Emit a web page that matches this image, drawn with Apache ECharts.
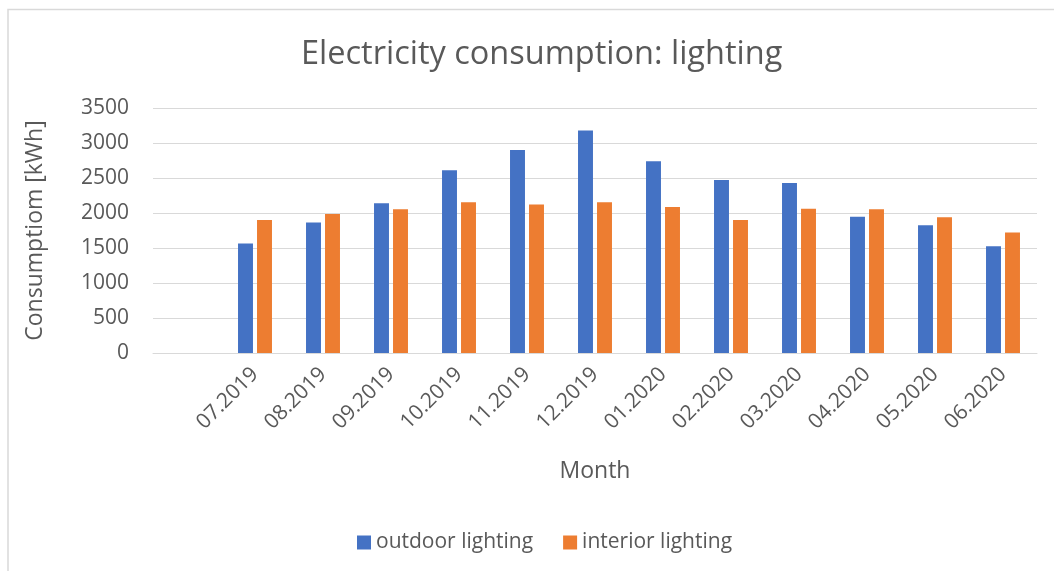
<!DOCTYPE html>
<html>
<head>
<meta charset="utf-8">
<script src="https://cdn.jsdelivr.net/npm/echarts@6/dist/echarts.min.js"></script>
<style>
  html, body { margin: 0; padding: 0; background: #fff; }
  #main { width: 1054px; height: 571px; }
</style>
</head>
<body>
<div id="main"></div>
<script>
// 数据 (first slot is an empty category, as in the original)
var months = ['', '07.2019', '08.2019', '09.2019', '10.2019', '11.2019', '12.2019',
  '01.2020', '02.2020', '03.2020', '04.2020', '05.2020', '06.2020'];
var outdoorLighting = ['-', 1565, 1865, 2140, 2610, 2900, 3180, 2740, 2470, 2430, 1945, 1825, 1525];
var interiorLighting = ['-', 1900, 1985, 2055, 2155, 2120, 2155, 2085, 1900, 2060, 2055, 1940, 1720];
var yTicks = { min: 0, max: 3500, interval: 500 };

var textColor = '#595959';
var lineColor = '#d9d9d9';
var fontName = 'Open Sans';

var myChart = echarts.init(document.getElementById('main'));
myChart.setOption({
  animation: false,
  color: ['#4472C4', '#ED7D31'],
  textStyle: { fontFamily: fontName, color: textColor },
  title: {
    text: 'Electricity consumption: lighting',
    left: 296,
    top: 33,
    textStyle: { fontFamily: fontName, fontSize: 32.5, fontWeight: 'normal', color: textColor }
  },
  legend: {
    bottom: 13,
    left: 352,
    icon: 'rect',
    itemWidth: 14,
    itemHeight: 14,
    itemGap: 30,
    textStyle: { fontFamily: fontName, fontSize: 21, color: textColor }
  },
  grid: { left: 153, right: 17, top: 108, bottom: 218, containLabel: false },
  xAxis: {
    type: 'category',
    data: months,
    name: 'Month',
    nameLocation: 'middle',
    nameGap: 107,
    nameTextStyle: { fontFamily: fontName, fontSize: 23, color: textColor },
    axisLine: { lineStyle: { color: lineColor, width: 1 } },
    axisTick: { show: false },
    axisLabel: { rotate: 45, fontSize: 21, color: textColor, margin: 18, interval: 0 }
  },
  yAxis: {
    type: 'value',
    min: yTicks.min,
    max: yTicks.max,
    interval: yTicks.interval,
    name: 'Consumptiom [kWh]',
    nameLocation: 'middle',
    nameGap: 106,
    nameTextStyle: { fontFamily: fontName, fontSize: 23, color: textColor },
    axisLine: { show: false },
    axisTick: { show: false },
    axisLabel: { fontSize: 21, color: textColor, margin: 24, formatter: function (v) { return String(v); } },
    splitLine: { lineStyle: { color: lineColor, width: 1 } }
  },
  series: [
    { name: 'outdoor lighting', type: 'bar', data: outdoorLighting, barWidth: '22%', barGap: '27%' },
    { name: 'interior lighting', type: 'bar', data: interiorLighting, barWidth: '22%' }
  ],
  graphic: [{
    type: 'polyline',
    silent: true,
    shape: { points: [[8, 571], [8, 9.5], [1054, 9.5]] },
    style: { stroke: lineColor, lineWidth: 1.5, fill: null }
  }]
});
</script>
</body>
</html>
